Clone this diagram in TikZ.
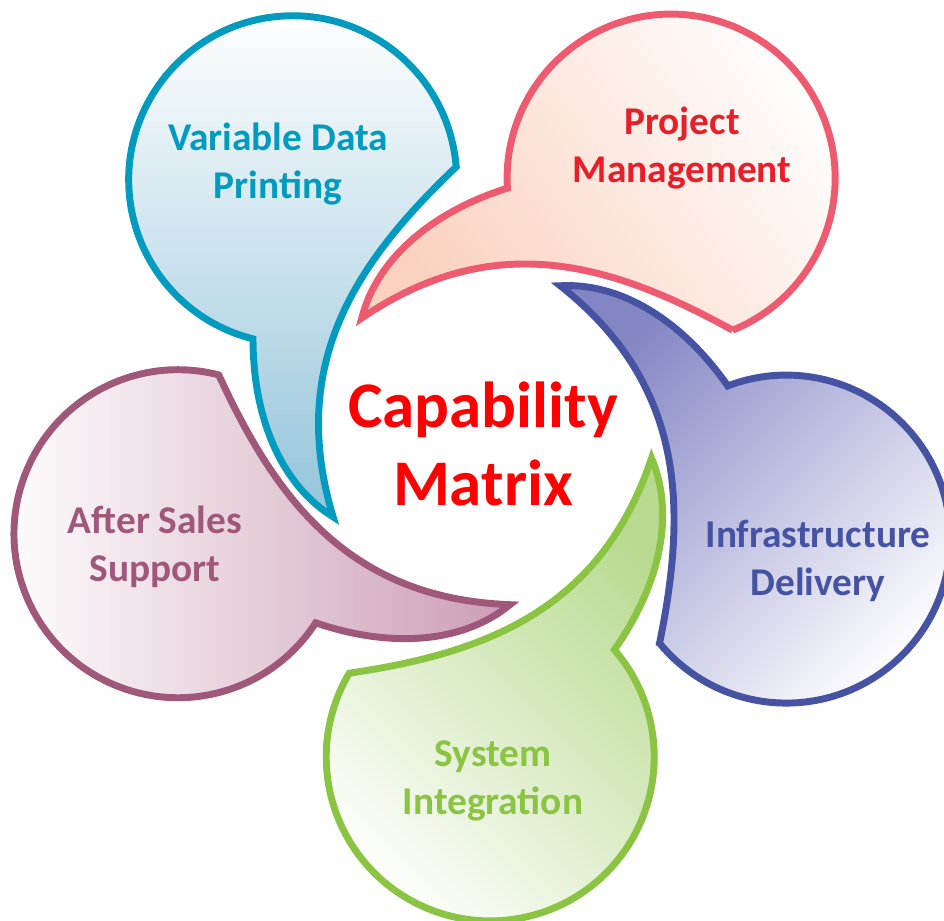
\documentclass[tikz,border=0pt]{standalone}
\usepackage{fontspec}
\setmainfont{Carlito}
\usepackage{xcolor}
\usetikzlibrary{positioning}
\definecolor{vdpblue}{RGB}{0,155,191}
\definecolor{vdpfill}{RGB}{148,196,218}
\definecolor{pmred}{RGB}{238,91,112}
\definecolor{pmfill}{RGB}{251,210,192}
\definecolor{pmtext}{RGB}{232,30,40}
\definecolor{infrablue}{RGB}{70,82,162}
\definecolor{infrafill}{RGB}{132,134,196}
\definecolor{sysgreen}{RGB}{139,195,66}
\definecolor{sysfill}{RGB}{184,218,143}
\definecolor{supportplum}{RGB}{160,88,122}
\definecolor{supportfill}{RGB}{204,157,181}
\definecolor{corered}{RGB}{255,0,0}
% one speech bubble: #1 rotation, #2 line colour, #3 fill colour, #4 shading angle
\newcommand{\bubble}[4]{%
  \begin{scope}[rotate=#1]
    \draw[bubbleline, draw=#2, top color=#3, bottom color=white, shading angle=#4]
      (233.1,-139.1) arc[start angle=-122, end angle=129.5, radius=164]
      .. controls (150,175) and (80,190) .. (25,168)
      .. controls (175,114) and (216,-1) .. cycle;
  \end{scope}}

\begin{document}
\begin{tikzpicture}[x=0.75pt, y=0.75pt,
    bubbleline/.style={line width=5.2pt},
    bubbletext/.style={font=\fontsize{29.5}{36}\selectfont\bfseries, align=center}]
    \useasboundingbox (-483,-483) rectangle (461,437);

    % Bubbles round the centre
    \bubble{126.5}{vdpblue}{vdpfill}{180}
    \bubble{54}{pmred}{pmfill}{125}
    \bubble{-18.6}{infrablue}{infrafill}{45}
    \bubble{-88.7}{sysgreen}{sysfill}{-45}
    \bubble{197.6}{supportplum}{supportfill}{-90}

    % Labels
    \node[bubbletext, vdpblue] (vdp) at (-205,273) {Variable Data\\Printing};
    \node[bubbletext, pmtext] (pm) at (199,289) {Project\\Management};
    \node[bubbletext, infrablue] (infra) at (335,-124) {Infrastructure\\Delivery};
    \node[bubbletext, sysgreen] (sysint) at (10,-344) {System\\Integration};
    \node[bubbletext, supportplum] (support) at (-328,-110) {After Sales\\Support};

    \node[font=\fontsize{48.8}{58.5}\selectfont\bfseries, align=center, corered] (core) at (0,-7) {Capability\\Matrix};
\end{tikzpicture}
\end{document}
